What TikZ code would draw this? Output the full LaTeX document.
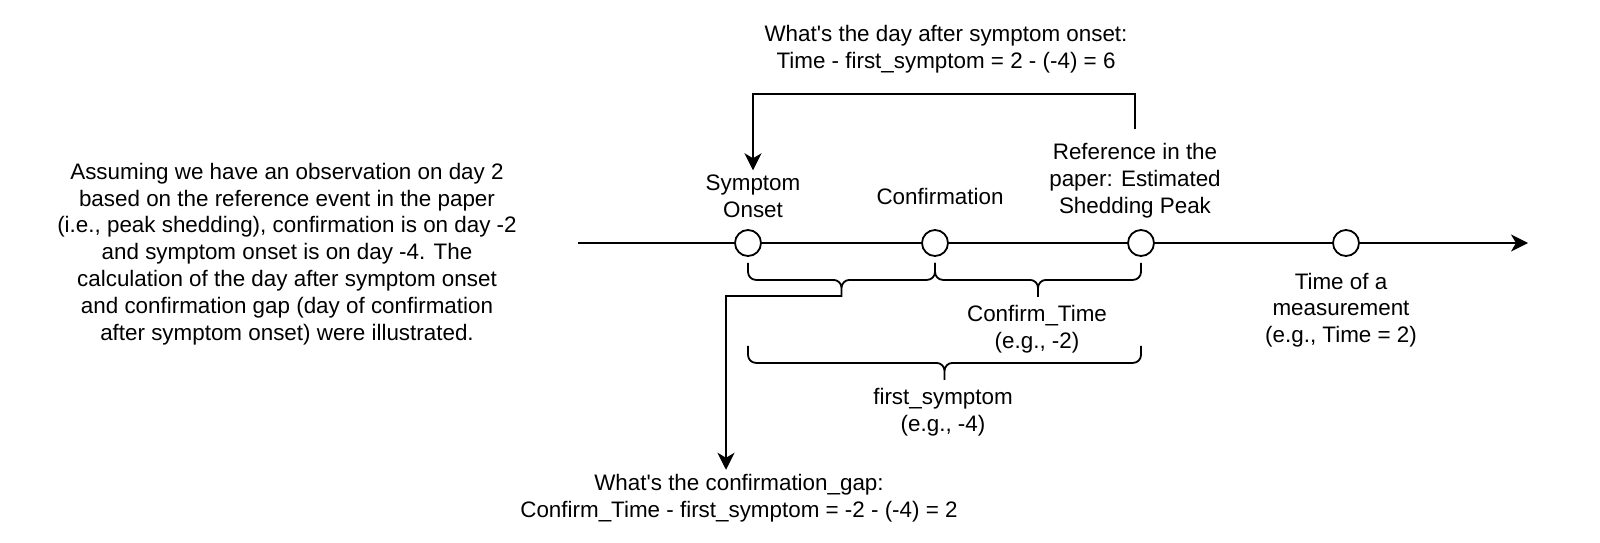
\documentclass[tikz,border=0pt]{standalone}
\usepackage{fontspec}
\setmainfont{Liberation Sans}
\usetikzlibrary{arrows.meta,calc}

\begin{document}
\begin{tikzpicture}[x=0.5pt,y=-0.5pt,
    every node/.style={font=\fontsize{11.2}{13.4}\selectfont,align=center,inner sep=2pt},
    event/.style={circle,draw,fill=white,line width=0.9pt,minimum size=13pt,inner sep=0pt},
    link/.style={line width=0.9pt,-{Stealth[length=8.5pt,width=8.5pt,inset=2.5pt]}},
    span/.style={line width=0.9pt,rounded corners=4pt,to path={
        (\tikztostart) -- ++(0,17) -- ($(\tikztostart)!0.5!(\tikztotarget)+(0,17)$) -- ($(\tikztostart)!0.5!(\tikztotarget)+(0,34)$)
        (\tikztotarget) -- ++(0,17) -- ($(\tikztostart)!0.5!(\tikztotarget)+(0,17)$) -- ($(\tikztostart)!0.5!(\tikztotarget)+(0,34)$)}}]
\useasboundingbox (0,0) rectangle (1600,542);
    \coordinate (start) at (578,243);
    \coordinate (end) at (1528,243);
    \draw[link] (start) -- (end);
    \node[event] (onset) at (748,243) {};
    \node[event] (confirm) at (935,243) {};
    \node[event] (peak) at (1141,243) {};
    \node[event] (measure) at (1346,243) {};
    \node (note) at (287,254) {Assuming we have an observation on day 2\\based on the reference event in the paper\\(i.e., peak shedding), confirmation is on day -2\\and symptom onset is on day -4. The\\calculation of the day after symptom onset\\and confirmation gap (day of confirmation\\after symptom onset) were illustrated.};
    \node (onsetlabel) at (753,196) {Symptom\\Onset};
    \node (confirmlabel) at (940,196) {Confirmation};
    \node (peaklabel) at (1135,181) {Reference in the\\paper: Estimated\\Shedding Peak};
    \node (measurelabel) at (1341,310) {Time of a\\measurement\\(e.g., Time = 2)};
    \node (daylabel) at (946,49) {What\textquotesingle s the day after symptom onset:\\Time - first\_symptom = 2 - (-4) = 6};
    \node (confirmtime) at (1037,329) {Confirm\_Time\\(e.g., -2)};
    \node (firstsymptom) at (943,412) {first\_symptom\\(e.g., -4)};
    \node (gaplabel) at (739,498) {What\textquotesingle s the confirmation\_gap:\\Confirm\_Time - first\_symptom = -2 - (-4) = 2};
    \draw[span] ([yshift=-3pt]onset.south) to ([yshift=-3pt]confirm.south);
    \draw[span] ([yshift=-3pt]confirm.south) to ([yshift=-3pt]peak.south);
    \draw[span] ([yshift=-44.5pt]onset.south) to ([yshift=-44.5pt]peak.south);
    \coordinate (gaptip) at (841,296);
    \coordinate (dayturn) at (946,94);
    \draw[link] (gaptip) -| ([xshift=-6.5pt]gaplabel.north);
    \draw[link] ([yshift=5pt]peaklabel.north) |- (dayturn) -| (onsetlabel.north);
\end{tikzpicture}
\end{document}
